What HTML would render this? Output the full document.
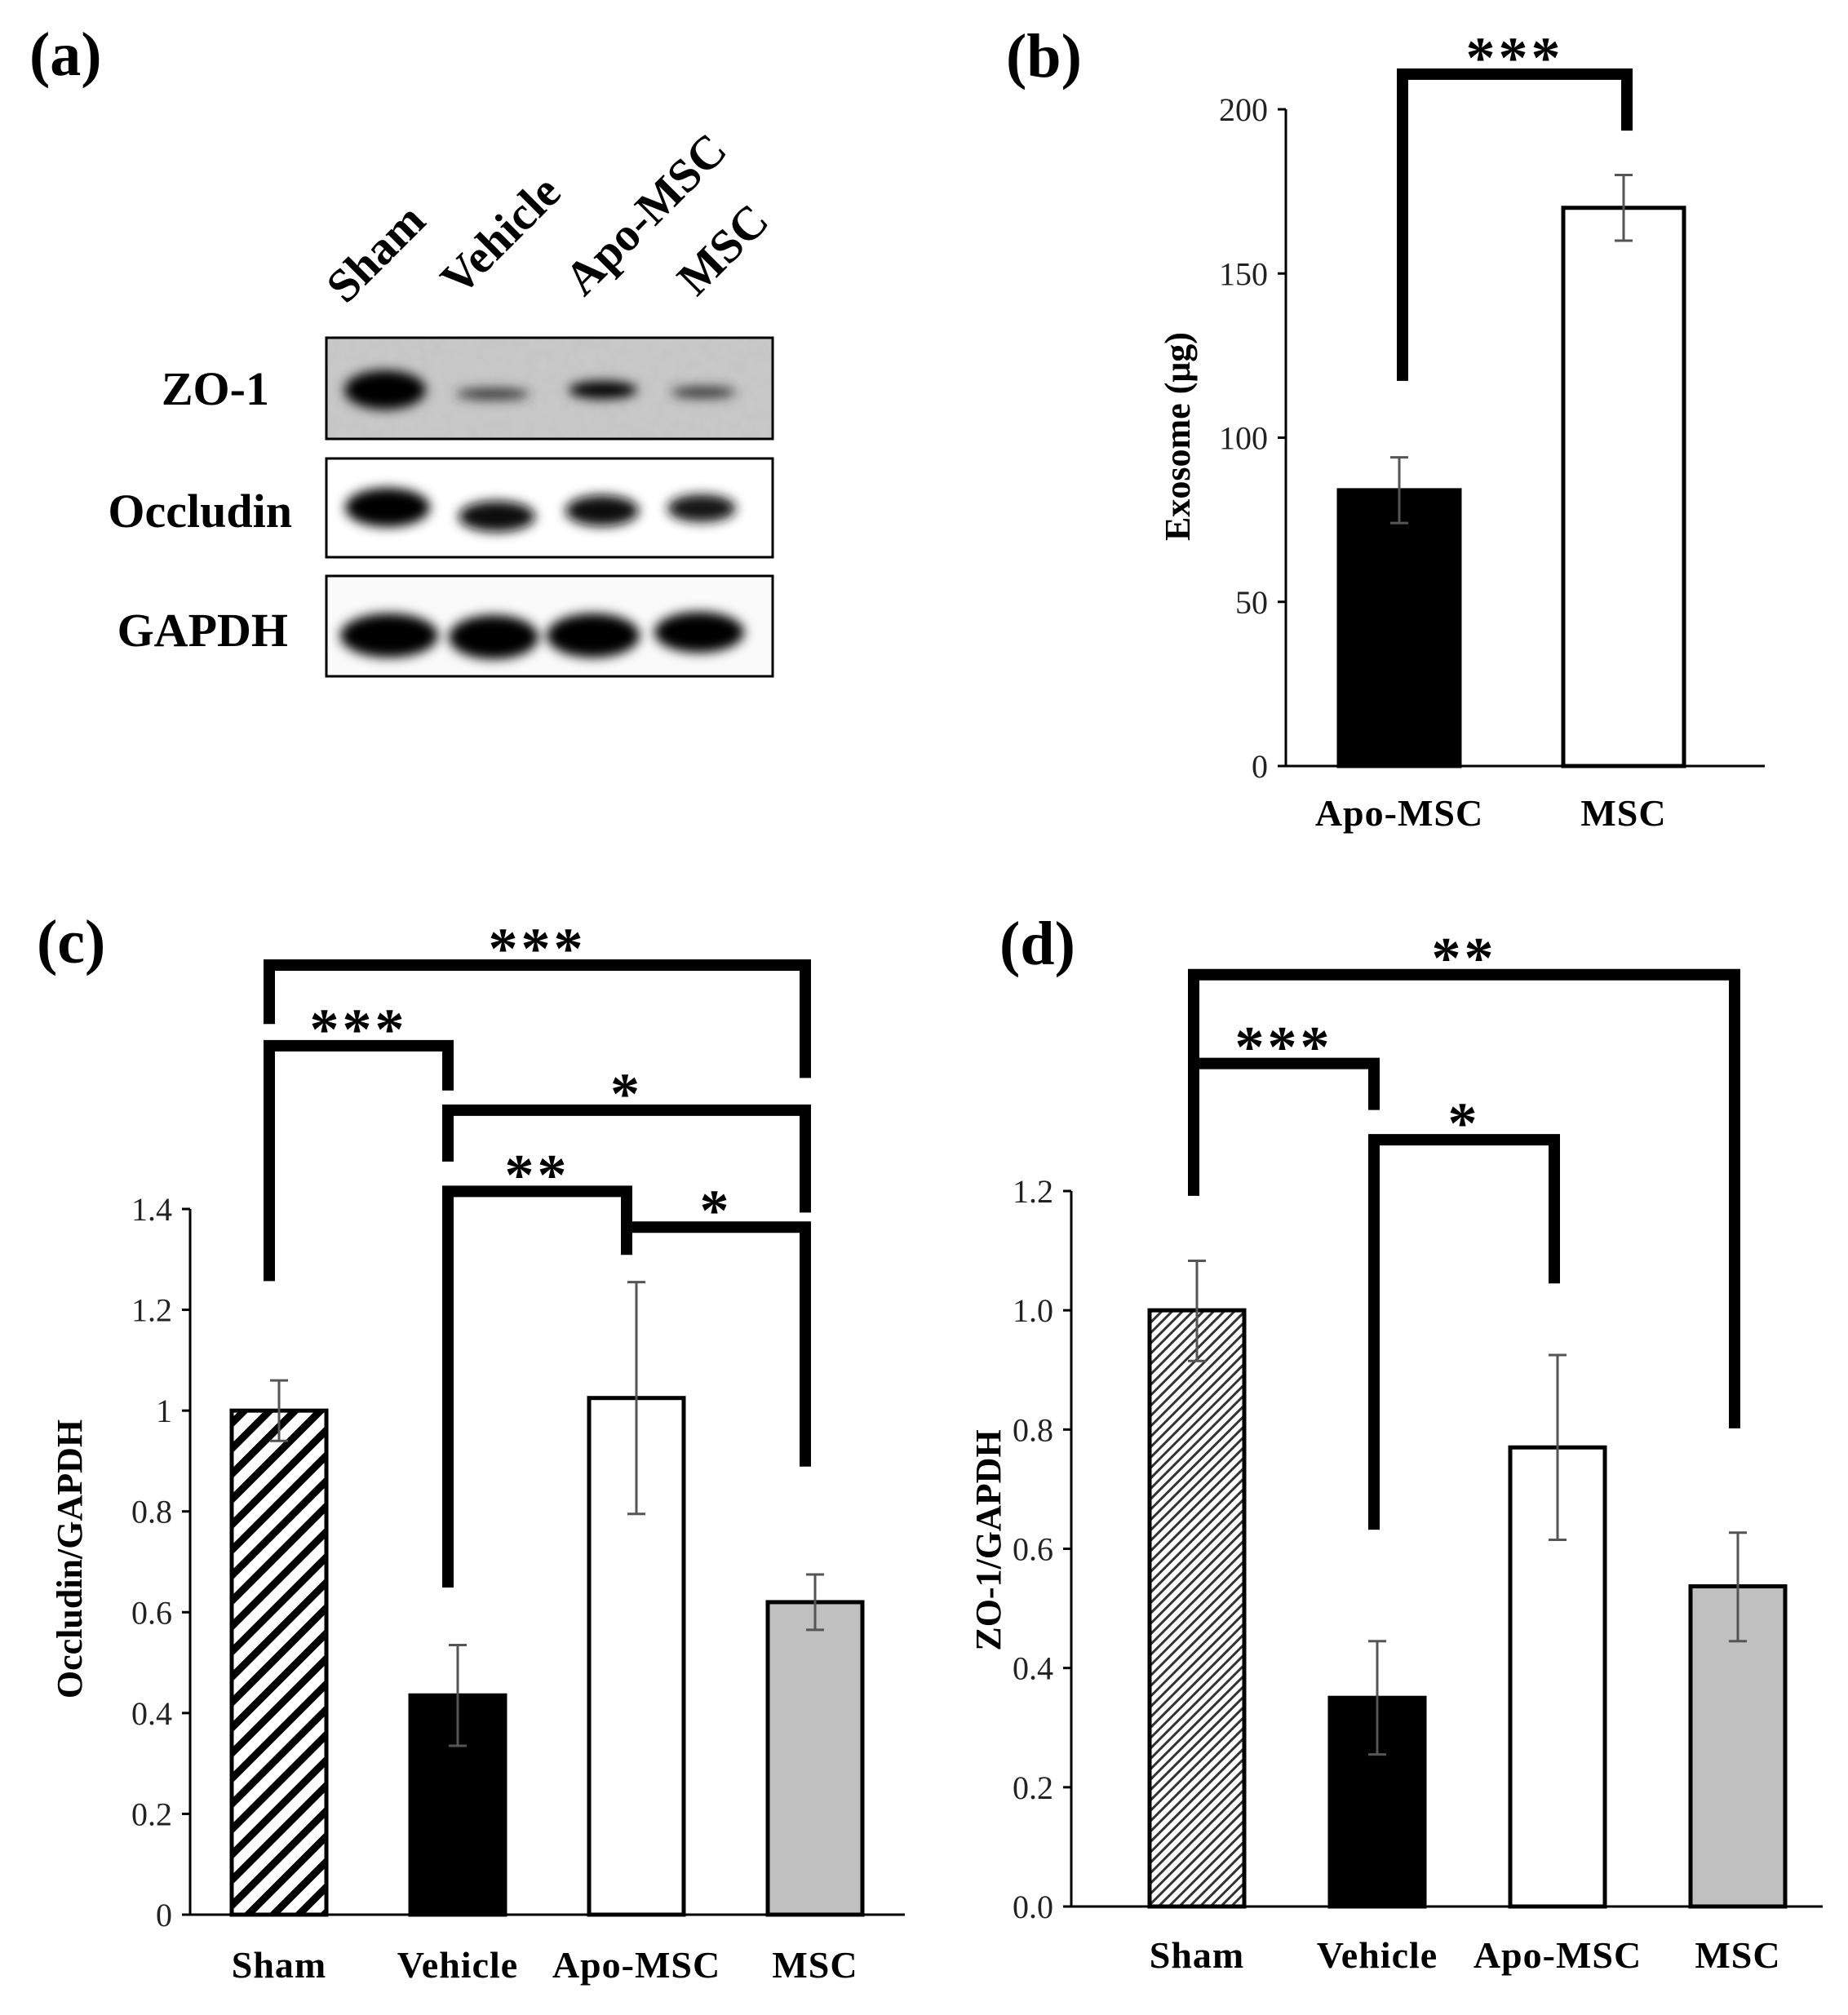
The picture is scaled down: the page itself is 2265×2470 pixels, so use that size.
<!DOCTYPE html>
<html><head><meta charset="utf-8"><style>
html,body{margin:0;padding:0;background:#fff;}
svg{display:block;font-family:"Liberation Serif",serif;}
</style></head><body>
<svg id="fig" width="2265" height="2470" viewBox="0 0 2265 2470" xmlns="http://www.w3.org/2000/svg">
<defs>
<filter id="blur" x="-30%" y="-60%" width="160%" height="220%"><feGaussianBlur stdDeviation="7"/></filter>
<filter id="noise" x="0" y="0" width="1" height="1"><feTurbulence type="fractalNoise" baseFrequency="0.07" numOctaves="2" seed="3"/><feColorMatrix type="matrix" values="0 0 0 0 0.6  0 0 0 0 0.6  0 0 0 0 0.6  0 0 0 -0.9 0.85"/></filter>
<clipPath id="zoclip"><rect x="400" y="414" width="547" height="124"/></clipPath>
<pattern id="hatchC" patternUnits="userSpaceOnUse" width="22" height="22" patternTransform="rotate(45)"><rect width="22" height="22" fill="#fff"/><rect x="0" y="0" width="9" height="22" fill="#000"/></pattern>
<pattern id="hatchD" patternUnits="userSpaceOnUse" width="9" height="9" patternTransform="rotate(45)"><rect width="9" height="9" fill="#fff"/><rect x="0" y="0" width="3" height="9" fill="#333"/></pattern>
</defs>

<!-- Panel a -->
<g>
<text x="36" y="92" font-size="76" font-weight="bold">(a)</text>
<g font-size="58" font-weight="bold">
<text transform="translate(424,374) rotate(-45)">Sham</text>
<text transform="translate(564,365) rotate(-45)">Vehicle</text>
<text transform="translate(716,365) rotate(-45)">Apo-MSC</text>
<text transform="translate(854,365) rotate(-45)">MSC</text>
</g>
<g font-size="58" font-weight="bold" text-anchor="end">
<text x="330" y="496">ZO-1</text>
<text x="358" y="646">Occludin</text>
<text x="353" y="792">GAPDH</text>
</g>
<g>
<rect x="400" y="414" width="547" height="124" fill="#c4c4c4"/>
<g clip-path="url(#zoclip)"><rect x="400" y="414" width="547" height="124" filter="url(#noise)"/></g>
<g filter="url(#blur)" clip-path="url(#zoclip)">
<ellipse cx="472" cy="478" rx="50" ry="24" fill="#000"/>
<ellipse cx="604" cy="483" rx="45" ry="7" fill="#333"/>
<ellipse cx="739" cy="478" rx="42" ry="11" fill="#000"/>
<ellipse cx="862" cy="481" rx="40" ry="7" fill="#333"/>
</g>
<rect x="400" y="414" width="547" height="124" fill="none" stroke="#000" stroke-width="3"/>
</g>
<g>
<rect x="400" y="562" width="547" height="121" fill="#fff"/>
<g filter="url(#blur)">
<ellipse cx="475" cy="622" rx="52" ry="24" fill="#000"/>
<ellipse cx="609" cy="633" rx="47" ry="19" fill="#111"/>
<ellipse cx="738" cy="626" rx="45" ry="19" fill="#111"/>
<ellipse cx="860" cy="623" rx="42" ry="17" fill="#151515"/>
</g>
<rect x="400" y="562" width="547" height="121" fill="none" stroke="#000" stroke-width="3"/>
</g>
<g>
<rect x="400" y="706" width="547" height="123" fill="#fafafa"/>
<g filter="url(#blur)">
<ellipse cx="477" cy="779" rx="60" ry="27" fill="#000"/>
<ellipse cx="605" cy="781" rx="55" ry="27" fill="#000"/>
<ellipse cx="727" cy="779" rx="57" ry="27" fill="#000"/>
<ellipse cx="857" cy="775" rx="55" ry="25" fill="#000"/>
</g>
<rect x="400" y="706" width="547" height="123" fill="none" stroke="#000" stroke-width="3"/>
</g>
</g>

<g id="charts"></g>
</svg>
<script>
// ---- Panel b data ----
const bCategories = ["Apo-MSC", "MSC"];
const bValues = [84, 170];
const bErrLow = [74, 160];
const bErrHigh = [94, 180];
const bTicks = [0, 50, 100, 150, 200];
const bTickLabels = ["0", "50", "100", "150", "200"];
// ---- Panel c data ----
const cCategories = ["Sham", "Vehicle", "Apo-MSC", "MSC"];
const cValues = [1.0, 0.435, 1.025, 0.62];
const cErrLow = [0.94, 0.335, 0.795, 0.565];
const cErrHigh = [1.06, 0.535, 1.255, 0.675];
const cTicks = [0, 0.2, 0.4, 0.6, 0.8, 1.0, 1.2, 1.4];
const cTickLabels = ["0", "0.2", "0.4", "0.6", "0.8", "1", "1.2", "1.4"];
// ---- Panel d data ----
const dCategories = ["Sham", "Vehicle", "Apo-MSC", "MSC"];
const dValues = [1.0, 0.35, 0.77, 0.537];
const dErrLow = [0.915, 0.255, 0.615, 0.445];
const dErrHigh = [1.083, 0.445, 0.925, 0.627];
const dTicks = [0, 0.2, 0.4, 0.6, 0.8, 1.0, 1.2];
const dTickLabels = ["0.0", "0.2", "0.4", "0.6", "0.8", "1.0", "1.2"];
// significance brackets: [fromIndex, toIndex, lineLevel, leftEnd, rightEnd, stars] (value units)
const bBrackets = [[0, 1, 210.7, 117.3, 193.5, "***"]];
const cBrackets = [[0, 3, 1.884, 1.767, 1.66, "***"], [0, 1, 1.724, 1.257, 1.635, "***"], [1, 3, 1.596, 1.494, 1.393, "*"], [1, 2, 1.435, 0.649, 1.316, "**"], [2, 3, 1.364, 1.309, 0.889, "*"]];
const dBrackets = [[0, 3, 1.563, 1.411, 0.802, "**"], [0, 1, 1.414, 1.192, 1.336, "***"], [1, 2, 1.286, 0.632, 1.045, "*"]];

const NS = "http://www.w3.org/2000/svg";
const root = document.getElementById("charts");
function mk(tag, attrs, parent) {
  const e = document.createElementNS(NS, tag);
  for (const k in attrs) e.setAttribute(k, attrs[k]);
  (parent || root).appendChild(e);
  return e;
}

function drawChart(o) {
  const g = mk("g", {});
  
  
  const y = v => o.y0 - (v - o.vmin) / (o.vmax - o.vmin) * (o.y0 - o.y1);
  const xC = i => o.firstC + i * o.step;
  const pl = mk("text", {x: o.lx, y: o.ly, "font-size": 76, "font-weight": "bold"}, g);
  pl.textContent = o.label;
  
  
  o.vals.forEach((v, i) => {
    const r = mk("rect", {x: xC(i) - o.bw / 2, y: y(v), width: o.bw, height: o.y0 - y(v), fill: o.fills[i], stroke: "#000", "stroke-width": 5}, g);
    
    
  });
  o.vals.forEach((v, i) => {
    const eg = mk("g", {stroke: "#555", "stroke-width": 3}, g);
    
    
    const x = xC(i);
    mk("line", {x1: x, x2: x, y1: y(o.lo[i]), y2: y(o.hi[i])}, eg);
    mk("line", {x1: x - 11, x2: x + 11, y1: y(o.lo[i]), y2: y(o.lo[i])}, eg);
    mk("line", {x1: x - 11, x2: x + 11, y1: y(o.hi[i]), y2: y(o.hi[i])}, eg);
  });
  const ax = mk("g", {stroke: "#000", "stroke-width": 3}, g);
  
  
  mk("line", {x1: o.ax, x2: o.ax, y1: y(o.vmax), y2: o.y0}, ax);
  mk("line", {x1: o.ax - 10, x2: o.xend, y1: o.y0, y2: o.y0}, ax);
  o.ticks.forEach((t, i) => {
    mk("line", {x1: o.ax - 10, x2: o.ax, y1: y(t), y2: y(t)}, ax);
    const tl = mk("text", {x: o.ax - 22, y: y(t) + 14, "font-size": 40, "text-anchor": "end", fill: "#222"}, g);
    tl.textContent = o.tickLabels[i];
    
    
  });
  o.cats.forEach((c, i) => {
    const t = mk("text", {x: xC(i), y: o.xly, "font-size": 46, "font-weight": "bold", "text-anchor": "middle", "letter-spacing": 1}, g);
    t.textContent = c;
    
    
  });
  const yt = mk("text", {transform: `translate(${o.ytx},${o.yty}) rotate(-90)`, "font-size": 44, "font-weight": "bold", "text-anchor": "middle"}, g);
  yt.textContent = o.ytitle;
  
  
  o.brackets.forEach(b => {
    const bg = mk("g", {}, g);
    
    
    const xa = xC(b[0]) + o.bOff, xb = xC(b[1]) + o.bOff;
    mk("polyline", {points: `${xa},${y(b[3])} ${xa},${y(b[2])} ${xb},${y(b[2])} ${xb},${y(b[4])}`, fill: "none", stroke: "#000", "stroke-width": 14}, bg);
    const st = mk("text", {x: (xa + xb) / 2, y: y(b[2]) + 4, "font-size": 72, "font-weight": "bold", "text-anchor": "middle", "letter-spacing": 4}, bg);
    st.textContent = b[5];
    
    
  });
}

drawChart({name: "panel-b-exosome-chart", label: "(b)", lx: 1233, ly: 94, cats: bCategories, vals: bValues, lo: bErrLow, hi: bErrHigh,
  ticks: bTicks, tickLabels: bTickLabels, vmin: 0, vmax: 200, y0: 939, y1: 134, ax: 1576, xend: 2163,
  firstC: 1715, step: 275, bw: 148, fills: ["#000", "#fff"], xly: 1012, ytitle: "Exosome  (μg)", ytx: 1458, yty: 535,
  brackets: bBrackets, bOff: 4});
drawChart({name: "panel-c-occludin-chart", label: "(c)", lx: 45, ly: 1180, cats: cCategories, vals: cValues, lo: cErrLow, hi: cErrHigh,
  ticks: cTicks, tickLabels: cTickLabels, vmin: 0, vmax: 1.4, y0: 2347, y1: 1482, ax: 233, xend: 1109,
  firstC: 342, step: 219, bw: 116, fills: ["url(#hatchC)", "#000", "#fff", "#c0c0c0"], xly: 2424, ytitle: "Occludin/GAPDH", ytx: 100, yty: 1911,
  brackets: cBrackets, bOff: -12});
drawChart({name: "panel-d-zo1-chart", label: "(d)", lx: 1225, ly: 1182, cats: dCategories, vals: dValues, lo: dErrLow, hi: dErrHigh,
  ticks: dTicks, tickLabels: dTickLabels, vmin: 0, vmax: 1.2, y0: 2337, y1: 1460, ax: 1313, xend: 2234,
  firstC: 1467, step: 221, bw: 116, fills: ["url(#hatchD)", "#000", "#fff", "#c0c0c0"], xly: 2412, ytitle: "ZO-1/GAPDH", ytx: 1226, yty: 1888,
  brackets: dBrackets, bOff: -4});
</script>
</body></html>
